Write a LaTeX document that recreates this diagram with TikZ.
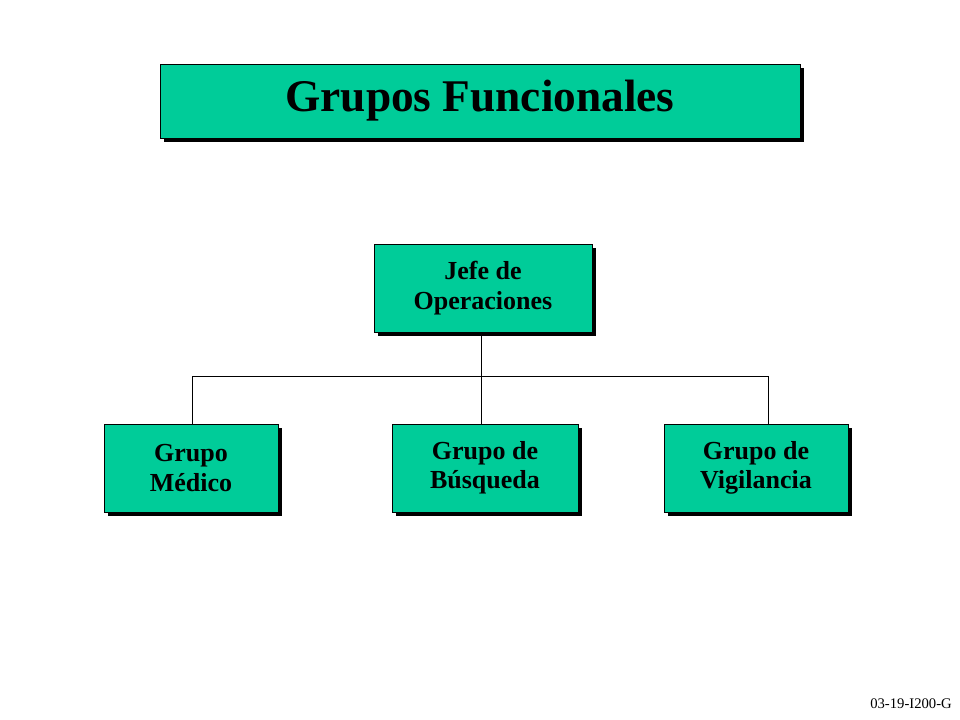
\documentclass[tikz,border=0pt]{standalone}
\usepackage{fontspec}
\setmainfont{Liberation Serif}
\usetikzlibrary{shadows}
\definecolor{boxgreen}{RGB}{0,204,153}
\tikzset{
  box/.style={draw=black, line width=0.6pt, fill=boxgreen, align=center, inner sep=0pt,
    font=\bfseries\fontsize{19.5}{22}\selectfont,
    drop shadow={shadow xshift=3pt, shadow yshift=-3pt, fill=black, opacity=1}},
  conn/.style={draw=black, line width=0.6pt}
}
\begin{document}
\begin{tikzpicture}[x=0.75pt,y=-0.75pt]
\useasboundingbox (0,0) rectangle (960,720);
\node[box, minimum width=480pt, minimum height=55.5pt, font=\bfseries\fontsize{34}{38}\selectfont] (title) at (480,101) {Grupos Funcionales};
\node[box, minimum width=163.5pt, minimum height=66pt] (jefe) at (483,288) {Jefe de\\Operaciones};
\node[box, minimum width=130.5pt, minimum height=66pt] (med) at (191,468) {Grupo\\Médico};
\node[box, minimum width=139.5pt, minimum height=66pt] (bus) at (485,468) {Grupo de\\Búsqueda};
\node[box, minimum width=138pt, minimum height=66pt] (vig) at (756,468) {Grupo de\\Vigilancia};
\coordinate (j) at (481,376);
\coordinate (l) at (192,376);
\coordinate (r) at (768,376);
\draw[conn] (jefe.south -| j) -- (j);
\draw[conn] (l) -- (r);
\draw[conn] (l) -- (l |- med.north);
\draw[conn] (j) -- (j |- bus.north);
\draw[conn] (r) -- (r |- vig.north);
\node[anchor=east, inner sep=0pt, font=\fontsize{11}{13}\selectfont] (foot) at (952,704) {03-19-I200-G};
\end{tikzpicture}
\end{document}
